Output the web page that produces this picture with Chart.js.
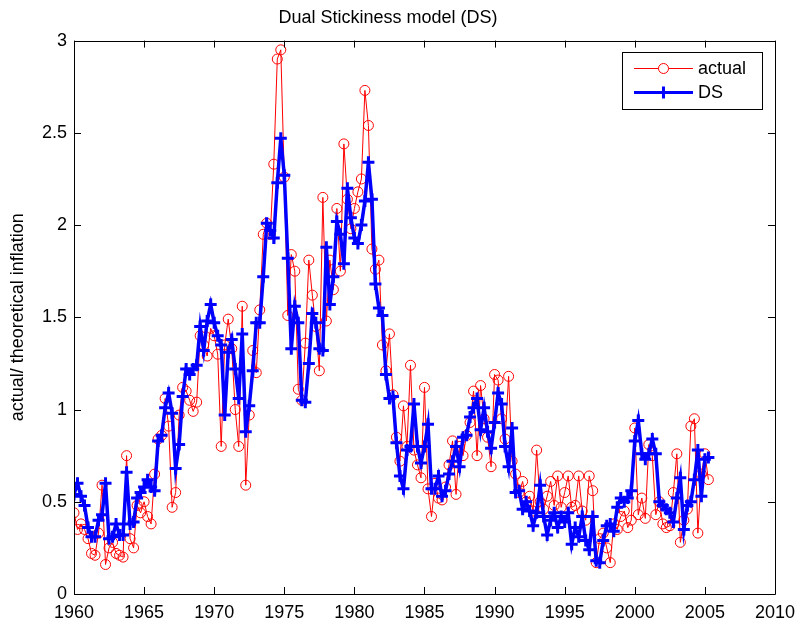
<!DOCTYPE html>
<html lang="en">
<head>
<meta charset="UTF-8">
<title>Dual Stickiness model (DS)</title>
<script src="https://cdn.jsdelivr.net/npm/chart.js"></script>
<style>
  body { margin: 0; background: #fff; }
  #wrap { width: 803px; height: 625px; }
</style>
</head>
<body>
<div id="wrap"><canvas id="myChart" width="803" height="625"></canvas></div>
<script>
// quarterly data, first quarter of 1960 onwards
const startYear = 1960;
const xTicks = [1960, 1965, 1970, 1975, 1980, 1985, 1990, 1995, 2000, 2005, 2010];
const yTicks = [0, 0.5, 1, 1.5, 2, 2.5, 3];

const actual = [
  0.44, 0.35, 0.38, 0.35, 0.30, 0.22, 0.21, 0.33, 0.59, 0.16, 0.25, 0.28, 0.22, 0.21, 0.20, 0.75, 0.30, 0.25, 0.48, 0.44,
  0.50, 0.42, 0.38, 0.65, 0.84, 0.86, 1.06, 0.91, 0.47, 0.55, 0.97, 1.12, 1.10, 1.05, 0.99, 1.04, 1.40, 1.35, 1.29, 1.44,
  1.40, 1.30, 0.80, 1.35, 1.49, 1.33, 1.00, 0.80, 1.56, 0.59, 0.97, 1.32, 1.20, 1.54, 1.95, 2.01, 1.95, 2.33, 2.90, 2.95,
  2.26, 1.51, 1.84, 1.75, 1.11, 1.05, 1.36, 1.81, 1.62, 1.45, 1.21, 2.15, 1.48, 1.81, 1.65, 2.09, 1.75, 2.44, 2.14, 1.98,
  2.09, 2.18, 2.25, 2.73, 2.54, 1.87, 1.76, 1.81, 1.35, 1.21, 1.41, 1.08, 0.85, 0.72, 1.02, 0.80, 1.24, 0.78, 0.70, 0.63,
  1.12, 0.57, 0.42, 0.60, 0.52, 0.51, 0.58, 0.70, 0.83, 0.54, 0.80, 0.75, 0.86, 0.93, 1.10, 0.75, 1.13, 0.95, 0.85, 0.69,
  1.19, 1.16, 0.95, 0.84, 1.18, 0.72, 0.65, 0.55, 0.61, 0.50, 0.53, 0.45, 0.78, 0.50, 0.46, 0.53, 0.61, 0.48, 0.64, 0.47,
  0.55, 0.64, 0.47, 0.48, 0.64, 0.45, 0.40, 0.64, 0.56, 0.17, 0.30, 0.33, 0.25, 0.17, 0.38, 0.35, 0.42, 0.45, 0.36, 0.40,
  0.90, 0.43, 0.52, 0.41, 0.81, 0.75, 0.43, 0.50, 0.38, 0.36, 0.37, 0.55, 0.76, 0.28, 0.40, 0.46, 0.91, 0.95, 0.33, 0.65,
  0.76, 0.62
];

const ds = [
  0.54, 0.60, 0.53, 0.48, 0.36, 0.31, 0.31, 0.40, 0.43, 0.60, 0.30, 0.31, 0.38, 0.32, 0.32, 0.66, 0.38, 0.39, 0.52, 0.55,
  0.58, 0.62, 0.58, 0.56, 0.83, 0.86, 1.01, 1.09, 0.98, 0.68, 0.81, 1.07, 1.22, 1.19, 1.22, 1.24, 1.45, 1.32, 1.48, 1.57,
  1.47, 1.40, 1.35, 0.97, 1.31, 1.38, 1.22, 1.06, 1.41, 0.88, 1.02, 1.21, 1.47, 1.47, 1.72, 2.01, 1.97, 1.93, 2.23, 2.47,
  2.27, 1.82, 1.33, 1.56, 1.47, 1.05, 1.04, 1.25, 1.52, 1.47, 1.33, 1.32, 1.88, 1.57, 1.72, 2.02, 1.95, 1.79, 2.20, 2.04,
  1.93, 1.90, 2.00, 2.13, 2.34, 2.14, 1.68, 1.55, 1.51, 1.19, 1.06, 1.07, 0.82, 0.64, 0.57, 0.78, 0.80, 1.03, 0.80, 0.71,
  0.80, 0.92, 0.57, 0.57, 0.64, 0.53, 0.56, 0.65, 0.72, 0.80, 0.69, 0.85, 0.86, 0.96, 1.01, 1.06, 0.89, 1.01, 0.88, 0.79,
  0.93, 1.09, 1.03, 0.80, 0.69, 0.90, 0.55, 0.56, 0.46, 0.50, 0.45, 0.37, 0.44, 0.59, 0.42, 0.32, 0.40, 0.44, 0.36, 0.42,
  0.39, 0.44, 0.27, 0.36, 0.31, 0.42, 0.29, 0.24, 0.42, 0.18, 0.17, 0.29, 0.37, 0.38, 0.34, 0.47, 0.52, 0.50, 0.52, 0.56,
  0.83, 0.94, 0.76, 0.73, 0.76, 0.84, 0.76, 0.50, 0.48, 0.46, 0.44, 0.39, 0.52, 0.63, 0.35, 0.48, 0.50, 0.62, 0.78, 0.53,
  0.73, 0.74
];

const quarters = actual.map((v, i) => startYear + i / 4);
const font = 'Liberation Sans, Arial, Helvetica, sans-serif';

// MATLAB-like box, inward ticks and legend
const frame = {
  id: 'frame',
  afterDatasetsDraw(chart) {
    const ctx = chart.ctx;
    const a = chart.chartArea;
    const x = chart.scales.x, y = chart.scales.y;
    ctx.save();
    ctx.strokeStyle = '#000';
    ctx.lineWidth = 1;
    ctx.beginPath();
    ctx.rect(Math.round(a.left) + 0.5, Math.round(a.top) + 0.5, Math.round(a.right - a.left), Math.round(a.bottom - a.top));
    xTicks.forEach(t => {
      const px = Math.round(x.getPixelForValue(t)) + 0.5;
      ctx.moveTo(px, a.bottom); ctx.lineTo(px, a.bottom - 7);
      ctx.moveTo(px, a.top); ctx.lineTo(px, a.top + 7);
    });
    yTicks.forEach(t => {
      const py = Math.round(y.getPixelForValue(t)) + 0.5;
      ctx.moveTo(a.left, py); ctx.lineTo(a.left + 7, py);
      ctx.moveTo(a.right, py); ctx.lineTo(a.right - 7, py);
    });
    ctx.stroke();

    // legend
    const lx = 622, ly = 52, lw = 140, lh = 57;
    ctx.fillStyle = '#fff';
    ctx.fillRect(lx, ly, lw, lh);
    ctx.strokeRect(lx + 0.5, ly + 0.5, lw, lh);
    ctx.font = '18px ' + font;
    ctx.textBaseline = 'middle';
    ctx.textAlign = 'left';

    ctx.strokeStyle = '#ff0000';
    ctx.lineWidth = 1;
    ctx.beginPath(); ctx.moveTo(634, 68.5); ctx.lineTo(693, 68.5); ctx.stroke();
    ctx.fillStyle = '#fff';
    ctx.beginPath(); ctx.arc(663.5, 68.5, 5, 0, Math.PI * 2); ctx.fill(); ctx.stroke();
    ctx.fillStyle = '#000';
    ctx.fillText('actual', 698, 69);

    ctx.strokeStyle = '#0000ff';
    ctx.lineWidth = 3;
    ctx.beginPath(); ctx.moveTo(634, 92.5); ctx.lineTo(693, 92.5);
    ctx.moveTo(663.5, 86.5); ctx.lineTo(663.5, 98.5);
    ctx.stroke();
    ctx.fillText('DS', 698, 93);
    ctx.restore();
  }
};

new Chart(document.getElementById('myChart'), {
  type: 'line',
  data: {
    datasets: [{
      label: 'actual',
      data: quarters.map((q, i) => ({ x: q, y: actual[i] })),
      borderColor: '#ff0000',
      borderWidth: 1,
      pointStyle: 'circle',
      pointRadius: 5,
      pointBorderWidth: 1,
      pointBorderColor: '#ff0000',
      pointBackgroundColor: 'rgba(0,0,0,0)',
      fill: false,
      tension: 0,
      order: 1
    }, {
      label: 'DS',
      data: quarters.map((q, i) => ({ x: q, y: ds[i] })),
      borderColor: '#0000ff',
      borderWidth: 3.5,
      pointStyle: 'cross',
      pointRadius: 6,
      pointBorderWidth: 3,
      pointBorderColor: '#0000ff',
      pointBackgroundColor: '#0000ff',
      fill: false,
      tension: 0,
      order: 0
    }]
  },
  options: {
    responsive: false,
    animation: false,
    events: [],
    layout: { padding: { left: 0, right: 27, top: 0, bottom: 0 } },
    plugins: {
      legend: { display: false },
      tooltip: { enabled: false },
      title: {
        display: true,
        text: 'Dual Stickiness model (DS)',
        color: '#000',
        font: { family: font, size: 18, weight: 'normal' },
        padding: { top: 7, bottom: 12 }
      }
    },
    scales: {
      x: {
        type: 'linear',
        min: 1960,
        max: 2010,
        grid: { display: false, drawTicks: false },
        border: { display: false },
        ticks: {
          stepSize: 5,
          padding: 8,
          color: '#000',
          maxRotation: 0,
          font: { family: font, size: 18 },
          callback: v => String(v)
        },
        afterFit: s => { s.height = 31; }
      },
      y: {
        min: 0,
        max: 3,
        grid: { display: false, drawTicks: false },
        border: { display: false },
        ticks: {
          stepSize: 0.5,
          padding: 7,
          color: '#000',
          font: { family: font, size: 18 },
          callback: v => String(v)
        },
        title: {
          display: true,
          text: 'actual/ theoretical inflation',
          color: '#000',
          font: { family: font, size: 18 },
          padding: { top: 7, bottom: 0 }
        },
        afterFit: s => { s.width = 74; }
      }
    }
  },
  plugins: [frame]
});
</script>
</body>
</html>
